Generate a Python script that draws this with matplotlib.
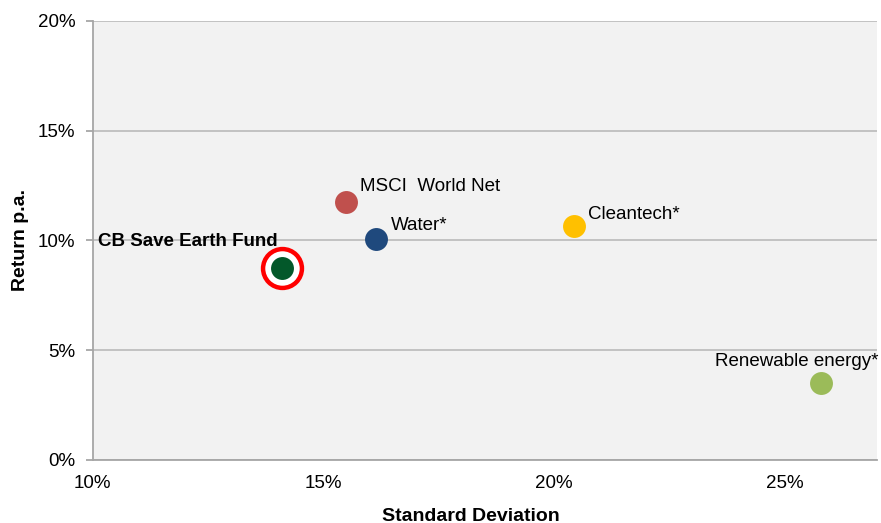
import matplotlib
matplotlib.use("Agg")
import matplotlib.pyplot as plt
from matplotlib.ticker import FuncFormatter

plt.rcParams['font.family'] = ['Liberation Sans', 'DejaVu Sans']

names = ["CB Save Earth Fund", "MSCI  World Net", "Water*", "Cleantech*", "Renewable energy*"]
std_dev = [14.10, 15.50, 16.14, 20.44, 25.80]
returns = [8.73, 11.76, 10.07, 10.65, 3.49]
colors = ["#03582A", "#C0504D", "#1F497D", "#FFC000", "#9BBB59"]

# label offsets in pixels (dx, dy) and alignment
offsets = [(-4, 27), (14, 15), (15, 13), (14, 12), (-25, 22)]
aligns = ["right", "left", "left", "left", "center"]
weights = ["bold", "normal", "normal", "normal", "normal"]

fig = plt.figure(figsize=(8.81, 5.23), dpi=100)
ax = fig.add_axes([0.1052, 0.1205, 0.8899, 0.8399])
ax.set_facecolor("#F2F2F2")

ax.set_xlim(10, 27)
ax.set_ylim(0, 20)
ax.set_xticks([10, 15, 20, 25])
ax.set_yticks([0, 5, 10, 15, 20])
pct = FuncFormatter(lambda v, p: "%d%%" % v)
ax.xaxis.set_major_formatter(pct)
ax.yaxis.set_major_formatter(pct)

ax.grid(axis="y", color="#BFBFBF", linewidth=1.3)
ax.set_axisbelow(True)
for s in ["top", "right"]:
    ax.spines[s].set_visible(False)
for s in ["left", "bottom"]:
    ax.spines[s].set_color("#A6A6A6")
    ax.spines[s].set_linewidth(1.3)

ax.tick_params(axis="y", length=5, color="#A6A6A6", width=1.3, pad=7.5, labelsize=13.5)
ax.tick_params(axis="x", length=0, pad=11, labelsize=13.5)

# highlight ring around the fund
ax.plot(std_dev[0], returns[0], "o", ms=28, mfc="white", mec="#FF0000", mew=3.2, zorder=3)

for x, y, c in zip(std_dev, returns, colors):
    ax.plot(x, y, "o", ms=16.5, color=c, mew=0, zorder=4)

for i in range(len(names)):
    ax.annotate(names[i], (std_dev[i], returns[i]), xytext=offsets[i],
                textcoords="offset pixels", ha=aligns[i], va="center",
                fontsize=13.5, fontweight=weights[i], zorder=5)

ax.set_xlabel("Standard Deviation", fontsize=14, fontweight="bold")
ax.xaxis.set_label_coords(0.483, -0.128)
ax.xaxis.label.set_va("center")
ax.set_ylabel("Return p.a.", fontsize=14, fontweight="bold")
ax.yaxis.set_label_coords(-0.0955 + 0.004, 0.5)
ax.yaxis.label.set_va("center")

fig.savefig("out.png", dpi=100)
